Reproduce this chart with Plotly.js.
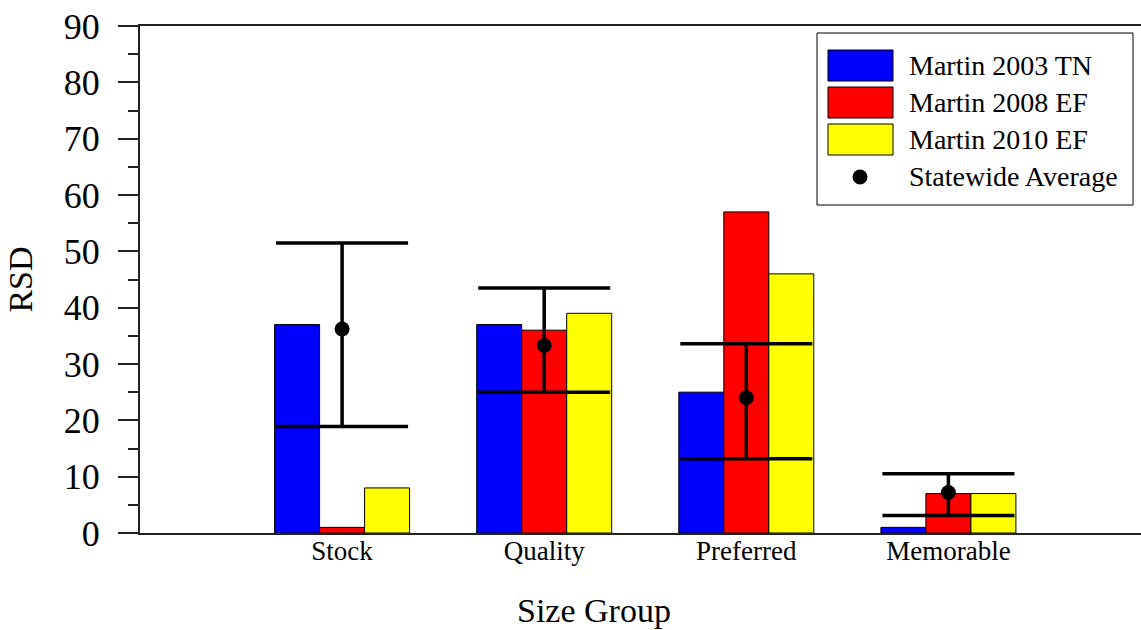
<!DOCTYPE html>
<html>
<head>
<meta charset="utf-8">
<script src="https://cdn.plot.ly/plotly-3.0.1.min.js"></script>
<style>html,body{margin:0;padding:0;background:#fff;}#chart{width:1141px;height:630px;}</style>
</head>
<body>
<div id="chart"></div>
<script>
// ---- data ----
const categories = ['Stock', 'Quality', 'Preferred', 'Memorable'];
const seriesNames = ['Martin 2003 TN', 'Martin 2008 EF', 'Martin 2010 EF', 'Statewide Average'];
const seriesColors = ['#0000ff', '#ff0000', '#ffff00', '#000000'];
const martin2003TN = [37, 37, 25, 1];
const martin2008EF = [1, 36, 57, 7];
const martin2010EF = [8, 39, 46, 7];
const statewideAvg = [36.2, 33.3, 24.0, 7.2];
const statewideUpper = [51.5, 43.5, 33.6, 10.5];
const statewideLower = [18.9, 25.0, 13.2, 3.1];
const yTickVals = [0, 10, 20, 30, 40, 50, 60, 70, 80, 90];
const xTitle = 'Size Group';
const yTitle = 'RSD';

// ---- layout geometry (pixels) ----
const W = 1141, H = 630;
const M = {l: 140, r: 0, t: 26, b: 97};
const plotW = W - M.l - M.r, plotH = H - M.t - M.b;
const px = x => (x - M.l) / plotW;
const py = y => (H - M.b - y) / plotH;

const FONT = 'Liberation Serif, Times New Roman, serif';
const barSeries = [martin2003TN, martin2008EF, martin2010EF];

const traces = barSeries.map((vals, i) => ({
  type: 'bar',
  name: seriesNames[i],
  x: categories,
  y: vals,
  marker: {color: seriesColors[i], line: {color: '#000', width: 1}},
  showlegend: false,
  hoverinfo: 'skip'
}));

traces.push({
  type: 'scatter',
  mode: 'markers',
  name: seriesNames[3],
  x: categories,
  y: statewideAvg,
  marker: {color: '#000', size: 15},
  error_y: {
    type: 'data',
    symmetric: false,
    array: statewideUpper.map((u, i) => u - statewideAvg[i]),
    arrayminus: statewideAvg.map((a, i) => a - statewideLower[i]),
    color: '#000',
    thickness: 3.5,
    width: 66
  },
  showlegend: false,
  hoverinfo: 'skip'
});

// ---- custom legend ----
const shapes = [];
const annotations = [];
shapes.push({type: 'rect', xref: 'paper', yref: 'paper',
  x0: px(817), x1: px(1133), y0: py(205), y1: py(33),
  line: {color: '#000', width: 1}, fillcolor: '#fff', layer: 'above'});
const rowCenters = [65.5, 102.5, 139.5, 177];
for (let i = 0; i < 3; i++) {
  shapes.push({type: 'rect', xref: 'paper', yref: 'paper',
    x0: px(828), x1: px(893), y0: py(rowCenters[i] + 15.5), y1: py(rowCenters[i] - 15.5),
    line: {color: '#000', width: 1}, fillcolor: seriesColors[i], layer: 'above'});
}
shapes.push({type: 'circle', xref: 'paper', yref: 'paper',
  x0: px(860 - 7.5), x1: px(860 + 7.5), y0: py(rowCenters[3] + 7.5), y1: py(rowCenters[3] - 7.5),
  line: {color: '#000', width: 0}, fillcolor: '#000', layer: 'above'});
for (let i = 0; i < 4; i++) {
  annotations.push({xref: 'paper', yref: 'paper', x: px(907), y: py(rowCenters[i]),
    xanchor: 'left', yanchor: 'middle', showarrow: false, text: seriesNames[i],
    font: {family: FONT, size: 28, color: '#000'}});
}
annotations.push({xref: 'paper', yref: 'paper', x: px(594), y: py(610),
  xanchor: 'center', yanchor: 'middle', showarrow: false, text: xTitle,
  font: {family: FONT, size: 34, color: '#000'}});

const layout = {
  width: W, height: H,
  margin: M,
  paper_bgcolor: '#fff', plot_bgcolor: '#fff',
  font: {family: FONT, color: '#000'},
  barmode: 'group',
  bargap: 0.332,
  bargroupgap: 0,
  xaxis: {
    type: 'category',
    range: [-1, 3.953],
    showline: true, linecolor: '#222', linewidth: 2, mirror: true,
    showgrid: false, zeroline: false, ticks: '',
    tickfont: {family: FONT, size: 27, color: '#000'},
    ticklabelstandoff: -7,
    automargin: false, fixedrange: true
  },
  yaxis: {
    range: [0, 90],
    tickvals: yTickVals,
    ticks: 'outside', ticklen: 20, tickwidth: 2, tickcolor: '#222',
    minor: {dtick: 5, ticks: 'outside', ticklen: 10, tickwidth: 2, tickcolor: '#222', showgrid: false},
    showline: true, linecolor: '#222', linewidth: 2,
    showgrid: false, zeroline: false,
    tickfont: {family: FONT, size: 36, color: '#000'},
    ticklabelstandoff: 11,
    title: {text: yTitle, font: {family: FONT, size: 34, color: '#000'}, standoff: 21},
    automargin: false, fixedrange: true
  },
  shapes: shapes,
  annotations: annotations,
  showlegend: false
};

Plotly.newPlot('chart', traces, layout, {displayModeBar: false, staticPlot: true});
</script>
</body>
</html>
